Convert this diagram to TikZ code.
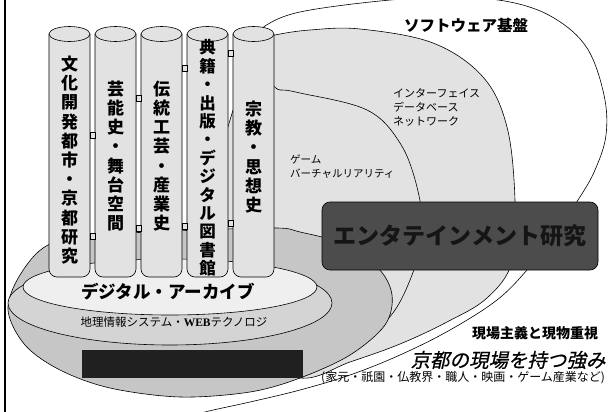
\documentclass[tikz,border=0pt]{standalone}
\usepackage{fontspec}
\newfontfamily\jp{Noto Sans CJK JP}
\newfontfamily\jpit[FakeSlant=0.22, FakeBold=0.6]{Noto Sans CJK JP}
\newfontfamily\ser{Liberation Serif}
\definecolor{lg}{HTML}{E2E2E2}
\definecolor{mg}{HTML}{C6C6C6}
\definecolor{dg}{HTML}{4C4C4C}
\definecolor{bar}{HTML}{202020}
\definecolor{dk}{HTML}{151515}
\tikzset{
  ln/.style={draw=black, line width=0.6pt},
  cylbody/.style={ln, fill=lg, rounded corners=8pt},
  cyltop/.style={ln, fill=lg},
  tab/.style={ln, fill=lg, line width=0.4pt},
  vtext/.style={font=\jp\bfseries\fontsize{17}{19.2}\selectfont, align=center, inner sep=0pt},
  smalltxt/.style={font=\jp\fontsize{11}{14}\selectfont, align=left, inner sep=0pt, anchor=north west},
}
\begin{document}
\begin{tikzpicture}[x=1pt,y=-1pt]
\useasboundingbox (0,0) rectangle (614,412);
\fill[white] (0,0) rectangle (614,412);

% outer ellipse: software base (white on white, only its visible edge)
\draw[line width=0.6pt] plot[smooth, tension=0.6] coordinates {(255,40) (265,26) (300,12) (380,1) (450,-3) (510,2) (554,18) (587,48) (604,95) (606,135) (595,170) (578,200) (550,240) (527,270) (497,300) (450,330) (400,355) (350,375) (300,390) (250,402) (205,412) (190,418)};
% gray ellipse
\path[ln, fill=lg] plot[smooth cycle, tension=0.6] coordinates {(262,40) (275,35) (310,30) (360,29) (433,43) (483,77) (507,127) (515,200) (512,262) (487,298) (447,322) (400,344) (350,362) (300,378) (240,350) (200,250) (230,120)};
% inner ellipse (game)
\path[ln, fill=lg] plot[smooth cycle, tension=0.6] coordinates {(262,92) (280,90) (300,93) (367,110) (400,143) (417,187) (422,230) (412,275) (387,320) (340,350) (280,330) (240,200)};

% ground swoosh
\path[ln, fill=mg] plot[smooth cycle, tension=0.55] coordinates {(48,245) (20,275) (8,310) (25,345) (60,370) (110,388) (180,397) (250,392) (300,378) (350,355) (385,325) (392,295) (378,268) (340,243) (300,232) (277,228) (200,230) (100,235)};
% disk G
\path[ln, fill=mg!75!white] (170,303) ellipse (162 and 42);
% disk D
\path[ln, fill=lg!55!white] (170,287) ellipse (147 and 28);

% black bar
\fill[bar] (82,350) rectangle (303,378);

% entertainment box
\node[ln, fill=dg, rounded corners=8pt, minimum width=276pt, minimum height=68pt, inner sep=0pt,
      font=\jp\bfseries\fontsize{23}{23}\selectfont, text=dk] (ent) at (460,236) {エンタテインメント研究};

% cylinders
\foreach \x/\n in {49/c1, 95/c2, 141/c3, 187/c4, 233/c5}{
  \path[cylbody] (\x,34) -- (\x,277) -- (\x+41,277) -- (\x+41,34);
  \path[cyltop] (\x+20.5,34) ellipse (20.5 and 7.5);
  \coordinate (\n) at (\x+20.5,157);
}
% tabs between cylinders
\foreach \x/\y in {90/132, 90/233, 136/95, 136/225, 182/65, 182/223, 228/50, 228/220}{
  \path[tab] (\x,\y) rectangle (\x+5,\y+6);
}

\node[vtext] (t1) at (69.5,160) {文\\化\\開\\発\\都\\市\\・\\京\\都\\研\\究};
\node[vtext] (t2) at (115.5,156) {芸\\能\\史\\・\\舞\\台\\空\\間};
\node[vtext] (t3) at (161.5,156) {伝\\統\\工\\芸\\・\\産\\業\\史};
\node[vtext, font=\jp\bfseries\fontsize{16.5}{18.4}\selectfont] (t4) at (207.5,158) {典\\籍\\・\\出\\版\\・\\デ\\ジ\\タ\\ル\\図\\書\\館};
\node[vtext] (t5) at (253.5,157) {宗\\教\\・\\思\\想\\史};

% platform texts
\node[font=\jp\bfseries\fontsize{17.5}{17.5}\selectfont, inner sep=0pt] (da) at (168,292) {デジタル・アーカイブ};
\node[font=\jp\fontsize{11.5}{11.5}\selectfont, inner sep=0pt] (gis) at (174,322) {地理情報システム・{\ser\bfseries WEB}テクノロジ};

% right texts
\node[font=\jp\bfseries\fontsize{15.5}{15.5}\selectfont, inner sep=0pt] (sw) at (466,25) {ソフトウェア基盤};
\node[smalltxt] (net) at (393,88) {インターフェイス\\データベース\\ネットワーク};
\node[smalltxt, font=\jp\fontsize{10.5}{13.5}\selectfont] (game) at (290,155) {ゲーム\\バーチャルリアリティ};

% bottom right texts
\node[font=\jp\bfseries\fontsize{14}{14}\selectfont, inner sep=0pt] (gen) at (535,333) {現場主義と現物重視};
\node[font=\jpit\fontsize{19.5}{19.5}\selectfont, inner sep=0pt] (kyo) at (508,360) {京都の現場を持つ強み};
\node[font=\jp\fontsize{12}{12}\selectfont, inner sep=0pt, anchor=west] (ex) at (321,378) {(家元・祇園・仏教界・職人・映画・ゲーム産業など)};

% left frame line
\draw[line width=1.6pt] (5,0) -- (5,412);
\end{tikzpicture}
\end{document}
